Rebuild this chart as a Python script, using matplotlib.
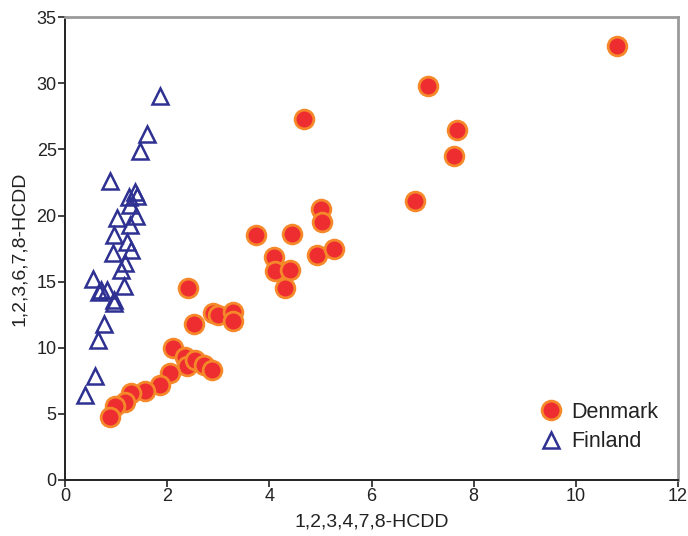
import matplotlib
matplotlib.use('Agg')
import matplotlib.pyplot as plt

plt.rcParams['font.family'] = ['Liberation Sans', 'DejaVu Sans']

# Denmark: 1,2,3,4,7,8-HCDD vs 1,2,3,6,7,8-HCDD
denmark_x = [10.8, 7.1, 4.68, 7.67, 7.61, 6.85, 5.01, 5.04, 3.74, 4.44,
             4.10, 4.12, 4.40, 4.94, 5.26, 4.31, 2.41, 2.53, 2.90, 2.99,
             3.29, 3.29, 2.11, 2.35, 2.38, 2.54, 2.73, 2.87, 2.05, 1.86,
             1.57, 1.29, 1.17, 0.98, 0.88]
denmark_y = [32.8, 29.8, 27.3, 26.5, 24.5, 21.1, 20.5, 19.5, 18.5, 18.6,
             16.9, 15.8, 15.9, 17.0, 17.5, 14.5, 14.5, 11.8, 12.6, 12.5,
             12.7, 12.0, 9.95, 9.3, 8.6, 9.07, 8.7, 8.3, 8.1, 7.2,
             6.7, 6.6, 5.9, 5.6, 4.8]

finland_x = [1.85, 1.60, 1.47, 0.89, 1.37, 1.26, 1.41, 1.27, 1.39, 1.01,
             1.27, 0.96, 1.21, 1.30, 0.93, 1.17, 1.10, 0.54, 1.15, 0.70,
             0.82, 0.67, 0.95, 0.95, 0.76, 0.64, 0.59, 0.39]
finland_y = [29.0, 26.2, 24.9, 22.6, 21.8, 21.4, 21.5, 20.8, 20.0, 19.8,
             19.3, 18.5, 18.0, 17.4, 17.2, 16.4, 15.9, 15.2, 14.7, 14.4,
             14.4, 14.2, 13.6, 13.4, 11.8, 10.6, 7.9, 6.4]

x_ticks = [0, 2, 4, 6, 8, 10, 12]
y_ticks = [0, 5, 10, 15, 20, 25, 30, 35]

fig = plt.figure(figsize=(6.88, 5.36), dpi=100)
ax = fig.add_axes([0.0945, 0.1045, 0.891, 0.8635])

ax.plot(denmark_x, denmark_y, 'o', ms=13.5, mfc='#ee2d30', mec='#f5892a',
        mew=2.0, ls='none', label='Denmark', zorder=3)
ax.plot(finland_x, finland_y, '^', ms=12, mfc='none', mec='#2e3192',
        mew=1.8, ls='none', label='Finland', zorder=4)

ax.set_xlim(0, 12)
ax.set_ylim(0, 35)
ax.set_xticks(x_ticks)
ax.set_yticks(y_ticks)
ax.tick_params(direction='out', length=5, width=1.2, labelsize=13, pad=1, colors='#222222')
ax.set_xlabel('1,2,3,4,7,8-HCDD', fontsize=14, color='#222222', labelpad=6)
ax.set_ylabel('1,2,3,6,7,8-HCDD', fontsize=14, color='#222222', labelpad=6)

for s in ['left', 'bottom']:
    ax.spines[s].set_color('#222222')
    ax.spines[s].set_linewidth(1.4)
for s in ['top', 'right']:
    ax.spines[s].set_color('#9a9a9a')
    ax.spines[s].set_linewidth(2)

leg = ax.legend(loc='lower right', bbox_to_anchor=(0.968, 0.06), frameon=False,
                fontsize=15.5, handletextpad=0.33, labelspacing=0.4,
                handlelength=1.2, borderaxespad=0, borderpad=0)
for t in leg.get_texts():
    t.set_color('#222222')

fig.savefig('out.png', dpi=100)
